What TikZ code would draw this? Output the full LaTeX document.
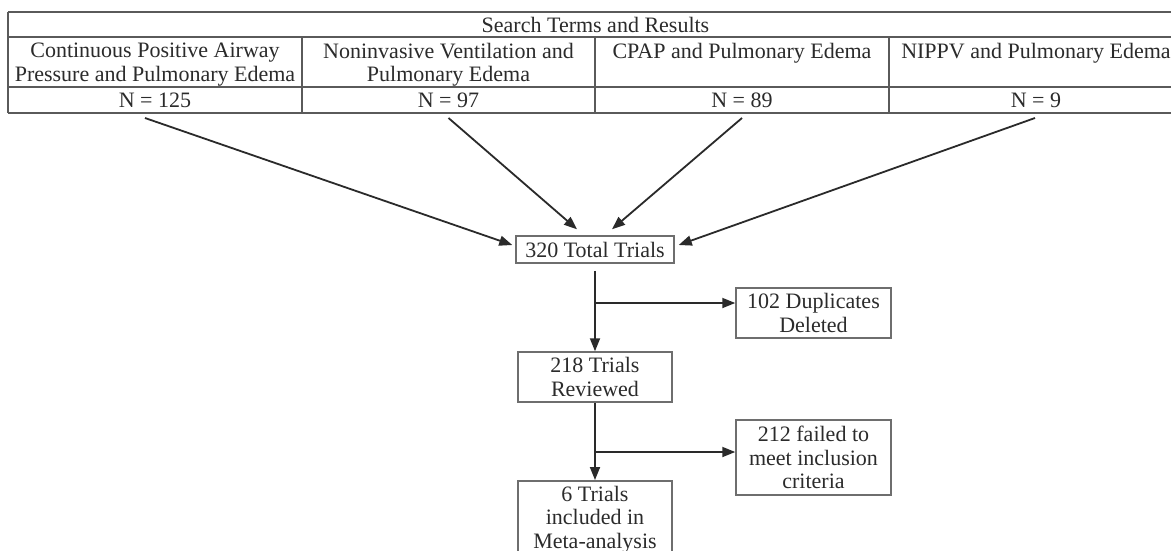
\documentclass[tikz,border=0pt]{standalone}
\usepackage{fontspec}
\setmainfont{Liberation Serif}
\usetikzlibrary{arrows.meta,calc}
\definecolor{txt}{HTML}{2B2B2B}
\definecolor{gridc}{HTML}{5A5A5A}
\definecolor{boxc}{HTML}{6E6E6E}
\definecolor{arrc}{HTML}{2A2A2A}
\begin{document}
\begin{tikzpicture}[x=1pt,y=-1pt,
  every node/.style={text=txt, font=\fontsize{22}{23.5}\selectfont, inner sep=0pt},
  cell/.style={align=center, anchor=base},
  mcell/.style={align=center, anchor=north},
  fbox/.style={draw=boxc, line width=1.5pt, align=center, inner sep=0pt},
  arr/.style={draw=arrc, line width=1.8pt, -{Triangle[length=13pt,width=10pt]}},
  gridline/.style={draw=gridc, line width=1.3pt},
  gridthick/.style={draw=gridc, line width=1.8pt}]
\useasboundingbox (0,0) rectangle (1171,550);
\clip (0,0) rectangle (1171,550);
\fill[white] (0,0) rectangle (1171,550);

% table grid
\draw[gridthick] (8,12) -- (1190,12);
\draw[gridline] (8,37) -- (1190,37);
\draw[gridline] (8,87) -- (1190,87);
\draw[gridthick] (8,113) -- (1190,113);
\draw[gridline] (8,12) -- (8,113);
\draw[gridline] (302,37) -- (302,113);
\draw[gridline] (595,37) -- (595,113);
\draw[gridline] (889,37) -- (889,113);

% table texts
\node[cell] (head) at (595.5,32) {Search Terms and Results};
\node[mcell] (c1) at (155,43) {Continuous Positive Airway\\Pressure and Pulmonary Edema};
\node[mcell] (c2) at (448.5,43) {Noninvasive Ventilation and\\Pulmonary Edema};
\node[cell] (c3) at (742,58) {CPAP and Pulmonary Edema};
\node[cell] (c4) at (1036,58) {NIPPV and Pulmonary Edema};
\node[cell] (n1) at (155,107) {N = 125};
\node[cell] (n2) at (448.5,107) {N = 97};
\node[cell] (n3) at (742,107) {N = 89};
\node[cell] (n4) at (1036,107) {N = 9};

% flow boxes
\node[fbox, minimum width=158pt, minimum height=27pt] (total) at (595,249.5) {320 Total Trials};
\node[fbox, minimum width=154pt, minimum height=50pt] (rev) at (595,377) {218 Trials\\Reviewed};
\node[fbox, minimum width=154pt, anchor=north, inner ysep=5pt] (inc) at (595,480) {6 Trials\\included in\\Meta-analysis};
\node[fbox, minimum width=155pt, minimum height=50pt] (dup) at (813.5,313) {102 Duplicates\\Deleted};
\node[fbox, minimum width=155pt, minimum height=75pt] (fail) at (813.5,457.5) {212 failed to\\meet inclusion\\criteria};

% arrows from table
\draw[arr] ($(n1.base)+(-10,11)$) -- ($(total.west)+(-3,-4.5)$);
\draw[arr] ($(n2.base)+(0,11)$) -- ($(total.north)+(-18,-6)$);
\draw[arr] ($(n3.base)+(0,11)$) -- ($(total.north)+(17,-6)$);
\draw[arr] ($(n4.base)+(-1,11)$) -- ($(total.east)+(4,-4.5)$);

% main flow
\draw[arr] ($(total.south)+(0,7)$) -- (rev.north);
\coordinate (b1) at (595,303);
\draw[arr] (b1) -- (b1 -| dup.west);
\draw[arr] (rev.south) -- (inc.north);
\coordinate (b2) at (595,452);
\draw[arr] (b2) -- (b2 -| fail.west);
\end{tikzpicture}
\end{document}
